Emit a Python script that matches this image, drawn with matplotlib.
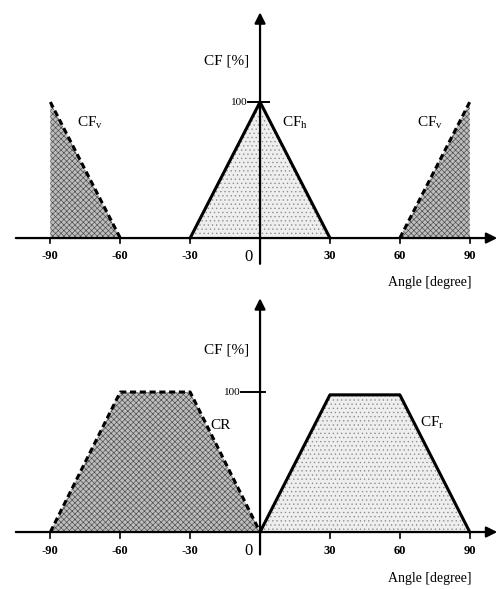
import matplotlib.pyplot as plt

plt.rcParams['font.family'] = ['Liberation Serif', 'DejaVu Serif']
plt.rcParams['mathtext.fontset'] = 'custom'
plt.rcParams['mathtext.rm'] = 'Liberation Serif'
plt.rcParams['hatch.linewidth'] = 0.45

# ---- data ----
angle_ticks = [-90, -60, -30, 30, 60, 90]
angle_labels = ["-90", "-60", "-30", "30", "60", "90"]

# upper diagram
cfv_left_x = [-90, -60]
cfv_left_y = [100, 0]
cfv_right_x = [60, 90]
cfv_right_y = [0, 100]
cfh_x = [-30, 0, 30]
cfh_y = [0, 100, 0]

# lower diagram
cr_x = [-90, -60, -30, 0]
cr_y = [0, 100, 100, 0]
cfr_x = [0, 30, 60, 90]
cfr_y = [0, 98, 98, 0]

fig = plt.figure(figsize=(5.04, 5.89), dpi=100)
ax1 = fig.add_axes([0, 299 / 589, 1, 290 / 589])
ax2 = fig.add_axes([0, 0, 1, 299 / 589])
ax1.set_xlim(-111.6, 104.7)
ax1.set_ylim(-38.2, 175)
ax2.set_xlim(-111.6, 104.7)
ax2.set_ylim(-40.7, 172.9)

dark = dict(facecolor='#bdbdbd', hatch='xxxxxx', edgecolor='#4a4a4a', linewidth=0)
light = dict(facecolor='#eeeeee', hatch='....', edgecolor='#8a8a8a', linewidth=0)


def draw_axes(ax, ybottom, ytop, hundred_span):
    # x axis with arrow
    ax.annotate('', xy=(103, 0), xytext=(-106, 0),
                arrowprops=dict(arrowstyle='-|>', color='k', lw=1.6, mutation_scale=16))
    # y axis with arrow
    ax.annotate('', xy=(0, ytop), xytext=(0, ybottom),
                arrowprops=dict(arrowstyle='-|>', color='k', lw=1.6, mutation_scale=16))
    for t, lab in zip(angle_ticks, angle_labels):
        ax.plot([t, t], [0, -4], color='k', lw=1.2)
        ax.text(t, -9, lab, ha='center', va='top', fontsize=9, fontweight='bold')
    ax.plot(hundred_span, [100, 100], color='k', lw=1.4)
    ax.text(hundred_span[0] - 0.5, 100, '100', ha='right', va='center', fontsize=8)
    ax.text(-3, -8, '0', ha='right', va='top', fontsize=12)
    ax.text(-14.5, 130, 'CF [%]', ha='center', va='center', fontsize=11)
    ax.text(73, -33, 'Angle [degree]', ha='center', va='center', fontsize=10)
    ax.axis('off')


# ---- upper ----
draw_axes(ax1, -21, 168, [-5, 4])
ax1.fill_between(cfv_left_x, cfv_left_y, 0, **dark)
ax1.fill_between(cfv_right_x, cfv_right_y, 0, **dark)
ax1.fill_between(cfh_x, cfh_y, 0, **light)
ax1.plot(cfv_left_x, cfv_left_y, color='k', lw=2.2, ls=(0, (2, 1.2)))
ax1.plot(cfv_right_x, cfv_right_y, color='k', lw=2.2, ls=(0, (2, 1.2)))
ax1.plot(cfh_x, cfh_y, color='k', lw=2.2)
ax1.text(-73, 85, r'CF$_\mathrm{v}$', ha='center', va='center', fontsize=11)
ax1.text(15, 85, r'CF$_\mathrm{h}$', ha='center', va='center', fontsize=11)
ax1.text(73, 85, r'CF$_\mathrm{v}$', ha='center', va='center', fontsize=11)

# ---- lower ----
draw_axes(ax2, -18, 169, [-8, 2])
ax2.fill_between(cr_x, cr_y, 0, **dark)
ax2.fill_between(cfr_x, cfr_y, 0, **light)
ax2.plot(cr_x, cr_y, color='k', lw=2.2, ls=(0, (2, 1.2)))
ax2.plot(cfr_x, cfr_y, color='k', lw=2.2)
ax2.text(-17, 76, 'CR', ha='center', va='center', fontsize=11)
ax2.text(74, 78, r'CF$_\mathrm{r}$', ha='center', va='center', fontsize=11)

fig.savefig('out.png', dpi=100)
